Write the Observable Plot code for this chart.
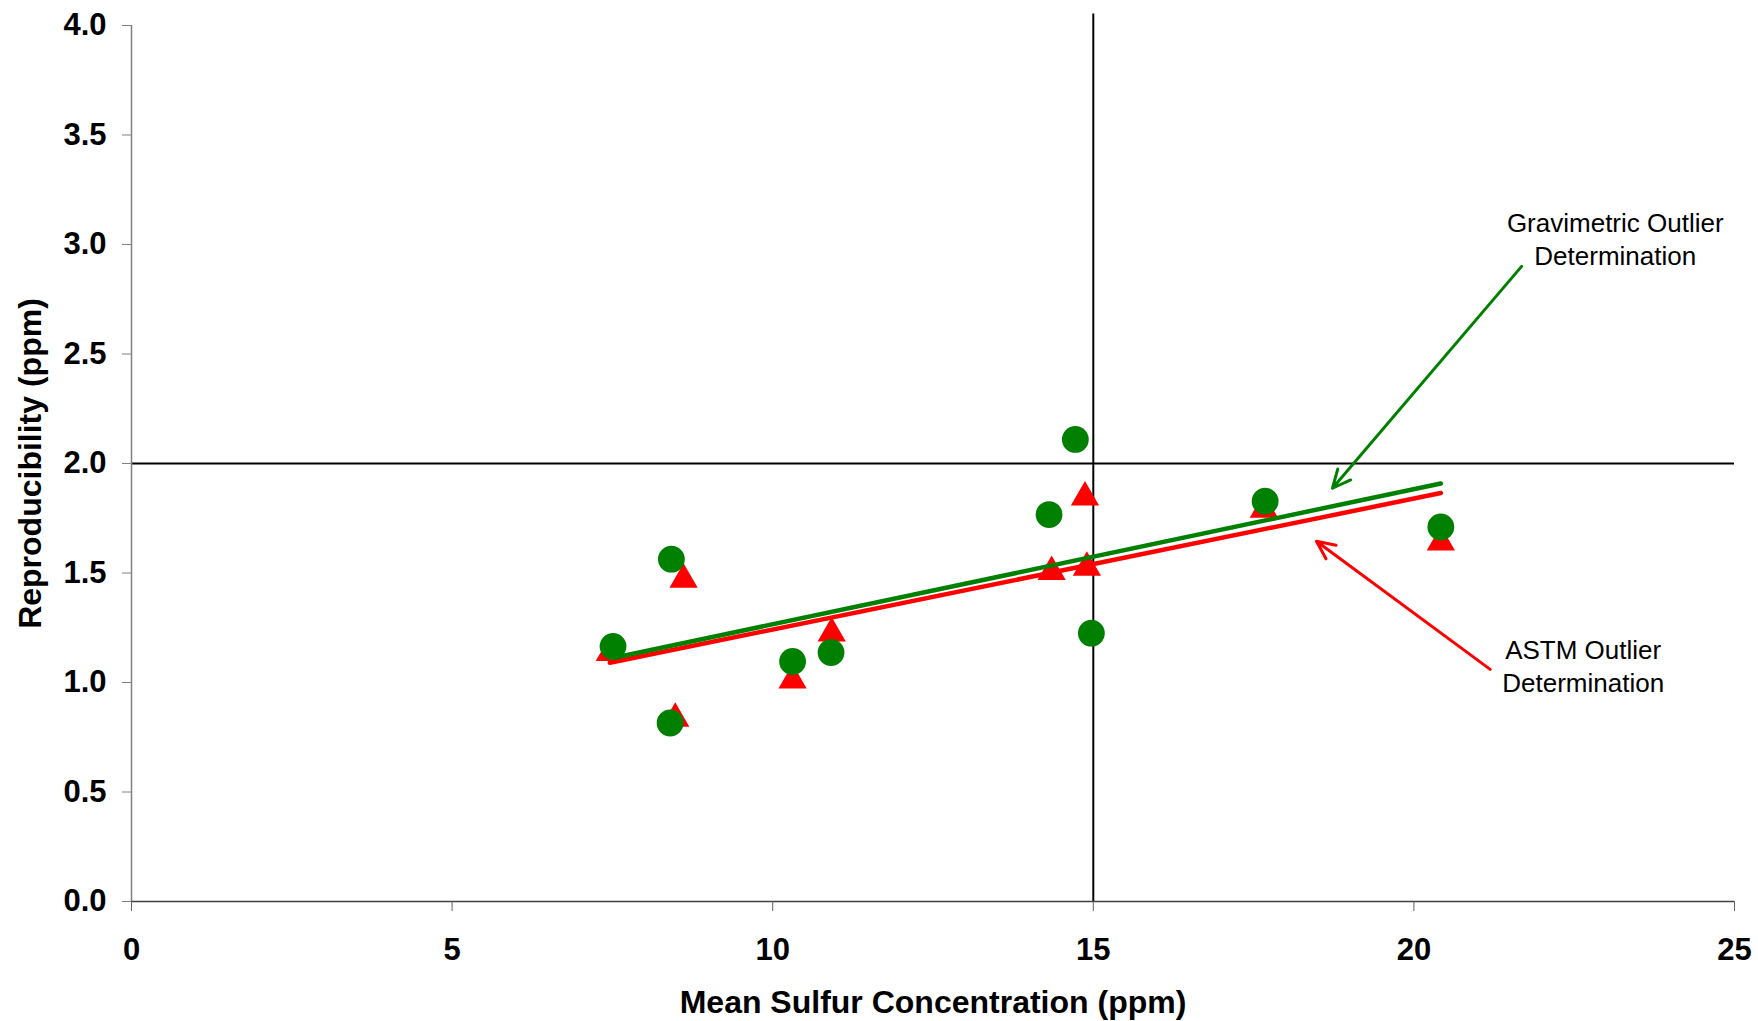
<!DOCTYPE html>
<html>
<head>
<meta charset="utf-8">
<script src="https://cdn.jsdelivr.net/npm/d3@7"></script>
<script src="https://cdn.jsdelivr.net/npm/@observablehq/plot@0.6"></script>
<style>
  html, body { margin: 0; padding: 0; background: #fff; }
</style>
</head>
<body>
<div id="chart"></div>
<script>
// ---- Data ----
const xTicks = [0, 5, 10, 15, 20, 25];
const yTicks = [0, 0.5, 1, 1.5, 2, 2.5, 3, 3.5, 4];

// Gravimetric outlier determination (green circles)
const gravX = [7.51, 8.42, 8.40, 10.31, 10.91, 14.31, 14.72, 14.97, 17.68, 20.42];
const gravY = [1.165, 1.563, 0.815, 1.096, 1.137, 1.767, 2.11, 1.225, 1.828, 1.71];

// ASTM outlier determination (red triangles)
const astmX = [7.46, 8.61, 8.48, 10.31, 10.92, 14.35, 14.87, 14.90, 17.66, 20.42];
const astmY = [1.135, 1.47, 0.835, 1.01, 1.225, 1.505, 1.845, 1.525, 1.79, 1.64];

// Linear trend lines (end points)
const gravTrendX = [7.51, 20.42];
const gravTrendY = [1.112, 1.909];
const astmTrendX = [7.46, 20.42];
const astmTrendY = [1.09, 1.865];

// Reference lines
const refX = 15;
const refY = 2.0;
const refXTop = 4.053;

// Annotations
const labelText = ["Gravimetric Outlier\nDetermination", "ASTM Outlier\nDetermination"];
const labelX = [23.14, 22.64];
const labelY = [3.031, 1.082];

const arrowX1 = [21.68, 21.19];
const arrowY1 = [2.90, 1.06];
const arrowX2 = [18.73, 18.48];
const arrowY2 = [1.887, 1.645];

const xTitle = "Mean Sulfur Concentration (ppm)";
const yTitle = "Reproducibility (ppm)";

// ---- Tables ----
const grav = gravX.map((x, i) => ({x, y: gravY[i]}));
const astm = astmX.map((x, i) => ({x, y: astmY[i]}));
const gravTrend = gravTrendX.map((x, i) => ({x, y: gravTrendY[i]}));
const astmTrend = astmTrendX.map((x, i) => ({x, y: astmTrendY[i]}));
const labels = labelText.map((t, i) => ({t, x: labelX[i], y: labelY[i]}));
const arrows = arrowX1.map((x1, i) => ({x1, y1: arrowY1[i], x2: arrowX2[i], y2: arrowY2[i]}));

const GREEN = "#008000";
const RED = "#ff0000";

const chart = Plot.plot({
  width: 1758,
  height: 1021,
  marginLeft: 131,
  marginRight: 24,
  marginTop: 25,
  marginBottom: 120,
  style: {fontFamily: "'Liberation Sans', Arial, sans-serif", background: "#fff", overflow: "visible"},
  x: {domain: [0, 25]},
  y: {domain: [0, 4]},
  marks: [
    // reference lines
    Plot.ruleY([refY], {stroke: "black", strokeWidth: 2}),
    Plot.ruleX([refX], {y1: 0, y2: refXTop, stroke: "black", strokeWidth: 2}),
    // axis lines
    Plot.ruleX([0], {stroke: "#808080", strokeWidth: 1.5}),
    Plot.ruleY([0], {stroke: "#404040", strokeWidth: 1.5}),
    // axes
    Plot.axisY({
      ticks: yTicks, tickFormat: d => d.toFixed(1), tickSize: 9, tickPadding: 16,
      fontSize: 31, fontWeight: "bold", stroke: "#808080", fill: "black", label: null
    }),
    Plot.axisX({
      ticks: xTicks, tickFormat: d => String(d), tickSize: 10, tickPadding: 26,
      fontSize: 31, fontWeight: "bold", stroke: "#606060", fill: "black", label: null
    }),
    // ASTM points
    Plot.dot(astm, {x: "x", y: "y", symbol: "triangle", r: 10.5, fill: RED, stroke: "none"}),
    // trend lines
    Plot.line(astmTrend, {x: "x", y: "y", stroke: RED, strokeWidth: 4.5}),
    Plot.line(gravTrend, {x: "x", y: "y", stroke: GREEN, strokeWidth: 4.5}),
    // gravimetric points
    Plot.dot(grav, {x: "x", y: "y", symbol: "circle", r: 13.4, fill: GREEN, stroke: "none"}),
    // arrows
    Plot.arrow([arrows[0]], {x1: "x1", y1: "y1", x2: "x2", y2: "y2", stroke: GREEN, strokeWidth: 3, headLength: 10, headAngle: 50}),
    Plot.arrow([arrows[1]], {x1: "x1", y1: "y1", x2: "x2", y2: "y2", stroke: RED, strokeWidth: 3, headLength: 10, headAngle: 50}),
    // annotation labels
    Plot.text(labels, {x: "x", y: "y", text: "t", fontSize: 26, lineHeight: 1.28, textAnchor: "middle", fill: "black"}),
    // axis titles
    Plot.text([xTitle], {frameAnchor: "bottom", dy: 111, text: d => d, textAnchor: "middle", fontSize: 32, fontWeight: "bold", fill: "black"}),
    Plot.text([yTitle], {frameAnchor: "left", dx: -101, rotate: -90, text: d => d, textAnchor: "middle", fontSize: 32, fontWeight: "bold", fill: "black"})
  ]
});

document.getElementById("chart").appendChild(chart);
</script>
</body>
</html>
